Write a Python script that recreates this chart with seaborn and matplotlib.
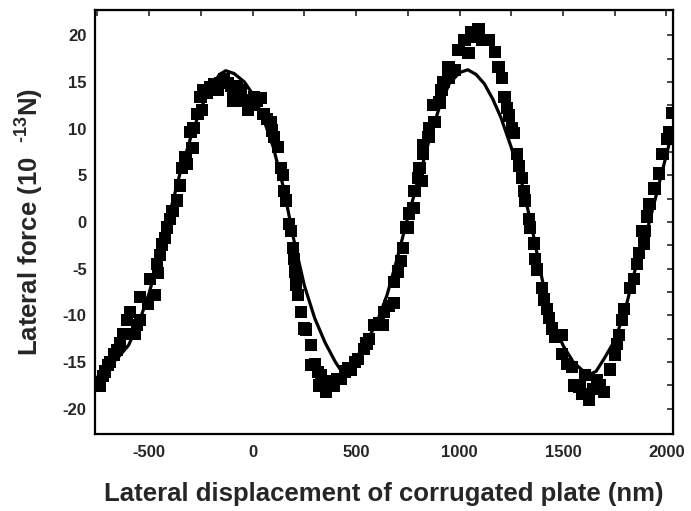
import matplotlib
matplotlib.use("Agg")
import matplotlib.pyplot as plt
import seaborn as sns
import pandas as pd
from matplotlib.ticker import MultipleLocator

# ---- data ----
meas_x = [-738, -725, -714, -700, -689, -670, -655, -640, -626, -607, -592, -568, -560, -544, -544,
          -505, -495, -471, -461, -456, -447, -437, -422, -413, -400, -388, -364, -350, -340, -325,
          -316, -301, -291, -286, -267, -252, -243, -238, -220, -204, -185, -170, -155, -140, -121,
          -105, -92, -92, -75, -58, -40, -24, -10, 5, 20, 39, 53, 70, 87, 95, 102, 121, 136, 146,
          150, 160, 175, 184, 194, 199, 205, 209, 218, 233, 247, 257, 282, 282, 300, 316, 320, 330,
          354, 370, 393, 410, 427, 445, 461, 476, 495, 510, 539, 550, 563, 587, 610, 631, 636, 660,
          684, 684, 704, 718, 728, 743, 752, 757, 777, 782, 801, 806, 816, 825, 825, 850, 854, 874,
          879, 903, 913, 922, 947, 947, 976, 995, 1024, 1044, 1058, 1075, 1092, 1107, 1141, 1170,
          1189, 1204, 1218, 1228, 1238, 1252, 1262, 1277, 1286, 1301, 1311, 1316, 1335, 1340, 1359,
          1364, 1374, 1398, 1408, 1422, 1432, 1447, 1461, 1495, 1495, 1519, 1544, 1553, 1580, 1592,
          1607, 1626, 1645, 1665, 1680, 1699, 1728, 1752, 1762, 1772, 1786, 1796, 1825, 1844, 1859,
          1869, 1883, 1893, 1898, 1908, 1918, 1942, 1966, 1981, 2005, 2015, 2029]
meas_y = [-17.5, -16.5, -16.0, -15.3, -15.0, -14.2, -13.7, -13.0, -12.0, -10.5, -9.6, -12.0, -11.0, -10.5, -8.0,
          -8.8, -6.1, -7.8, -4.5, -5.5, -3.5, -2.4, -1.7, -0.6, 0.3, 1.2, 2.3, 3.9, 5.8, 6.9,
          6.2, 9.6, 7.9, 10.1, 11.6, 13.4, 12.0, 14.1, 13.8, 14.4, 14.8, 14.1, 14.9, 15.3, 14.9,
          14.6, 14.1, 13.0, 14.5, 14.1, 13.0, 12.0, 12.5, 13.4, 13.0, 13.3, 11.6, 11.0, 10.7, 9.8, 9.1, 8.0, 5.8, 5.0,
          3.3, 2.3, -0.2, -1.0, -2.8, -4.0, -5.3, -6.7, -7.8, -9.6, -11.4, -11.5, -13.2, -15.3, -15.2, -16.1, -17.5, -16.4,
          -18.2, -17.0, -17.5, -16.8, -16.8, -16.0, -15.7, -15.8, -15.0, -14.7, -13.6, -13.0, -12.5, -11.0, -10.8, -11.0, -9.6, -9.0,
          -8.7, -6.4, -5.3, -4.2, -2.8, -0.6, -0.6, 0.9, 1.5, 3.3, 4.7, 5.8, 4.4, 7.3, 8.2, 9.1, 10.0, 12.5,
          10.7, 12.8, 14.1, 15.0, 15.4, 16.6, 16.3, 18.4, 19.5, 18.1, 20.3, 19.8, 20.6, 19.5, 19.5, 18.2,
          16.6, 15.4, 13.4, 12.2, 11.4, 10.1, 9.5, 7.3, 6.0, 4.7, 3.3, 2.3, 0.3, -0.6, -2.3,
          -4.0, -5.1, -7.1, -8.3, -9.3, -10.3, -11.4, -12.3, -12.1, -14.1, -15.2, -15.5, -17.5, -17.6, -18.4,
          -16.4, -19.0, -17.9, -16.9, -17.5, -18.2, -15.8, -14.2, -13.1, -12.1, -10.5, -9.3, -7.1, -6.1, -4.5,
          -3.3, -1.0, -2.3, -1.0, 0.6, 1.9, 3.6, 5.2, 7.3, 8.9, 9.6, 11.7]

fit_x = [-760, -700, -650, -600, -550, -500, -450, -400, -350, -300, -250, -200, -160, -130, -90, -40,
         0, 50, 100, 150, 200, 250, 300, 350, 400, 430, 460, 500, 550, 600, 650, 700, 750, 800, 850,
         900, 950, 1000, 1040, 1080, 1120, 1160, 1200, 1250, 1300, 1350, 1400, 1450, 1500, 1550, 1600,
         1630, 1660, 1700, 1750, 1800, 1850, 1900, 1950, 2000, 2030]
fit_y = [-16.8, -15.6, -14.5, -13.2, -10.8, -7.6, -3.5, 1.0, 5.3, 9.0, 12.2, 14.5, 15.8, 16.2, 15.9, 15.0,
         13.7, 11.2, 8.0, 3.6, -2.0, -6.8, -10.3, -12.9, -15.0, -16.0, -15.6, -14.6, -12.8, -10.8, -7.8, -3.8, 0.5, 4.4, 8.5,
         12.1, 14.8, 16.0, 16.3, 15.8, 14.8, 13.2, 11.2, 8.0, 4.3, -0.6, -6.2, -10.5, -13.2, -15.0, -16.0,
         -16.3, -16.0, -14.6, -12.7, -9.5, -5.0, -1.5, 2.8, 7.2, 9.8]

x_ticks = [-500, 0, 500, 1000, 1500, 2000]
y_ticks = [-20, -15, -10, -5, 0, 5, 10, 15, 20]

sns.set_style("white")
plt.rcParams['font.family'] = ['Liberation Sans', 'DejaVu Sans']
plt.rcParams['font.weight'] = 'bold'
plt.rcParams['axes.unicode_minus'] = False
plt.rcParams['mathtext.fontset'] = 'custom'
plt.rcParams['mathtext.rm'] = 'Liberation Sans:bold'
plt.rcParams['mathtext.bf'] = 'Liberation Sans:bold'
plt.rcParams['mathtext.default'] = 'bf'

fig = plt.figure(figsize=(6.91, 5.11), dpi=100)
ax = fig.add_axes([95/691, 77/511, 578/691, 424/511])

meas = pd.DataFrame({"x": meas_x, "y": meas_y})
fit = pd.DataFrame({"x": fit_x, "y": fit_y})

sns.scatterplot(data=meas, x="x", y="y", marker="s", s=78, color="black",
                edgecolor="none", linewidth=0, ax=ax, zorder=3)
sns.lineplot(data=fit, x="x", y="y", color="black", linewidth=2.3, ax=ax,
             sort=False, zorder=4)

ax.set_xlim(-762, 2032)
ax.set_ylim(-22.7, 22.7)
ax.set_xticks(x_ticks)
ax.set_yticks(y_ticks)
ax.xaxis.set_minor_locator(MultipleLocator(250))
ax.yaxis.set_minor_locator(MultipleLocator(2.5))
ax.tick_params(which='major', direction='in', length=8, width=1.5, labelsize=12)
ax.tick_params(axis='x', which='major', pad=8)
ax.tick_params(axis='y', which='major', pad=6)
ax.tick_params(which='minor', direction='in', length=4, width=1.2)
for lab in ax.get_xticklabels() + ax.get_yticklabels():
    lab.set_fontweight('bold')

for sp in ax.spines.values():
    sp.set_linewidth(1.6)
    sp.set_color('black')

# top/right ticks without labels
sx = ax.secondary_xaxis('top')
sx.set_xticks(list(range(-750, 2001, 250)))
sx.tick_params(direction='in', length=4, width=1.2, labeltop=False)
sy = ax.secondary_yaxis('right')
sy.set_yticks([v * 2.5 for v in range(-8, 9)])
sy.tick_params(direction='in', length=4, width=1.2, labelright=False)

ax.set_xlabel("Lateral displacement of corrugated plate (nm)", fontsize=18.5,
              fontweight='bold', labelpad=16)
ax.set_ylabel("Lateral force (10  $^{\u201013}$N)", fontsize=18.5, fontweight='bold', labelpad=12)

fig.savefig("out.png", dpi=100)
